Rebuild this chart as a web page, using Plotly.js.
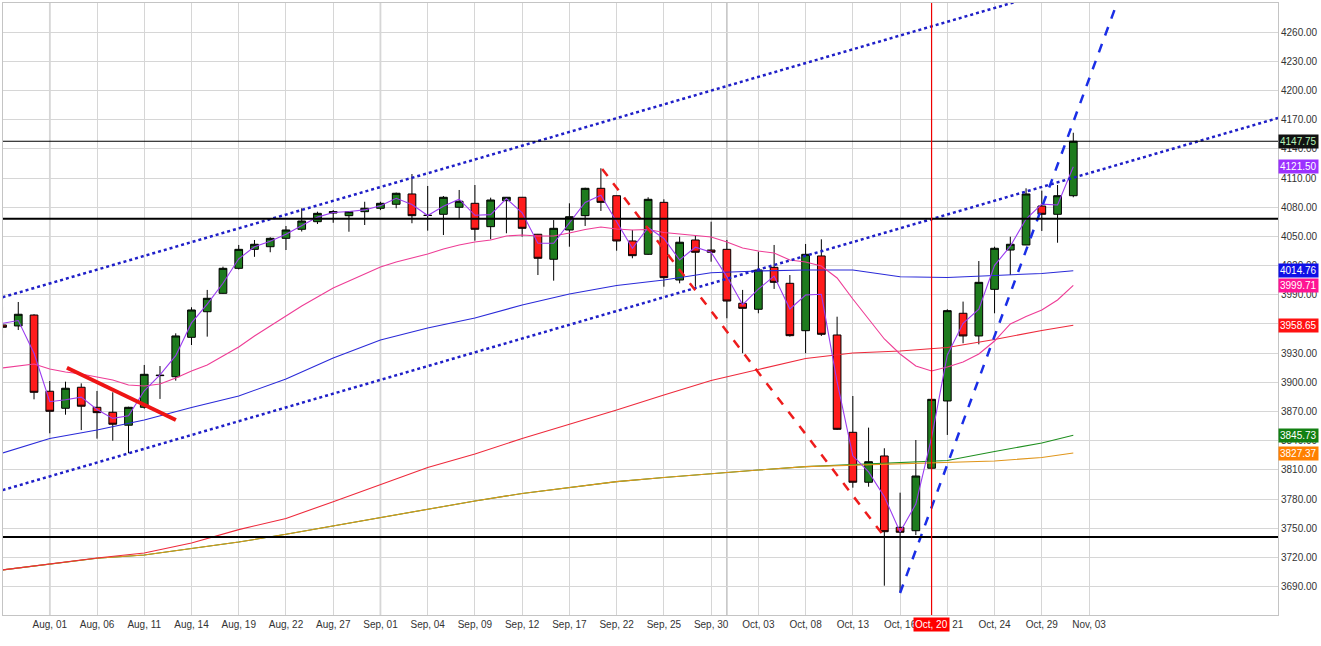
<!DOCTYPE html>
<html><head><meta charset="utf-8">
<script src="https://cdn.plot.ly/plotly-3.0.1.min.js"></script>
<style>html,body{margin:0;padding:0;background:#fff;overflow:hidden}#chart{width:1321px;height:646px}</style>
</head><body><div id="chart"></div>
<script>
// ---- data (daily candles, index = trading-day slot) ----
const dates = ["Jul, 29","Jul, 30","Jul, 31","Aug, 01","Aug, 04","Aug, 05","Aug, 06","Aug, 07","Aug, 08","Aug, 11",
"Aug, 12","Aug, 13","Aug, 14","Aug, 15","Aug, 18","Aug, 19","Aug, 20","Aug, 21","Aug, 22","Aug, 25",
"Aug, 26","Aug, 27","Aug, 28","Aug, 29","Sep, 01","Sep, 02","Sep, 03","Sep, 04","Sep, 05","Sep, 08",
"Sep, 09","Sep, 10","Sep, 11","Sep, 12","Sep, 15","Sep, 16","Sep, 17","Sep, 18","Sep, 19","Sep, 22",
"Sep, 23","Sep, 24","Sep, 25","Sep, 26","Sep, 29","Sep, 30","Oct, 01","Oct, 02","Oct, 03","Oct, 06",
"Oct, 07","Oct, 08","Oct, 09","Oct, 10","Oct, 13","Oct, 14","Oct, 15","Oct, 16","Oct, 17","Oct, 20",
"Oct, 21","Oct, 22","Oct, 23","Oct, 24","Oct, 27","Oct, 28","Oct, 29","Oct, 30","Oct, 31"];
const futureDates = ["Nov, 03"];
const open = [3959,3958,3969.2,3890.9,3873.4,3895,3874.4,3869.3,3856,3874.4,
3907.5,3905.8,3946.3,3972.6,3991.5,4017.2,4036.7,4039.4,4048,4057.3,
4065.1,4074,4071.3,4075.4,4078.9,4083,4093.6,4071.8,4072.7,4079.9,
4084,4060,4086.7,4090.2,4052.2,4026.5,4056.6,4071.3,4099.4,4091.8,
4045.3,4031.6,4085,4005.2,4046.3,4036,4036.7,3981.3,3975.1,4018.2,
4001.8,3953.1,4029.9,3948.7,3848.7,3797.4,3824.4,3751.1,3747.6,3811.8,
3880.9,3971,3947.7,3995.6,4036,4041.2,4081.2,4072.7,4091.8];
const high = [3977.5,3982.6,3970,3901.4,3900.7,3899,3891.2,3889.8,3875,3917.9,
3916.8,3950.4,3977.2,3995,4018.9,4041.2,4046.3,4049.1,4060.7,4078.9,
4075.4,4077.1,4076,4085.6,4085.6,4095,4114.1,4101.8,4091.5,4097.7,
4102.8,4089.8,4090.5,4090.5,4052.5,4066.8,4084,4100,4120,4092,
4056.6,4090.2,4088.1,4049.7,4051.4,4065.1,4046.3,3995,4034.3,4041.2,
4010.3,4042.2,4047,3967.5,3886,3853.5,3832.3,3786.7,3840.8,3883,
3975.1,3983,4024.7,4039.4,4049.7,4099.4,4097,4102.8,4156.5];
const low = [3948.7,3953.8,3882.6,3847.7,3866.8,3851,3842.2,3840.1,3827.2,3873,
3883,3901.8,3938.4,3947,3991,4016,4029,4033.7,4036,4055,
4062.7,4064,4054.8,4061.7,4077,4078.9,4063.5,4055.9,4051.4,4068.6,
4045.6,4047,4053.2,4049.7,4010.3,4004.5,4039.4,4060.7,4076.1,4035.3,
4027.5,4031,3998.3,4001.8,3998.3,4024,3965.9,3930,3971,3996,
3947,3929.9,3947.7,3851.1,3791.8,3792.8,3691.1,3684.3,3743.2,3811,
3846,3940.2,3939.1,3971,4010.3,4041,4055.6,4043.5,4090.2];
const close = [3956.6,3970,3889.8,3870.3,3894,3875.5,3868.9,3857,3874.4,3908.3,
3907,3947.7,3974.4,3986.4,4017.2,4036.7,4041.9,4048,4056.6,4065.8,
4073.7,4075.5,4075.4,4078.9,4084,4094.3,4071.3,4071.5,4090.2,4086.1,
4057.3,4087.4,4090.2,4058.3,4027.5,4058.3,4070.2,4099.4,4085,4045.3,
4030.2,4088.1,4007.6,4044,4033.7,4033.7,3983.6,3976.1,4015.5,4002.8,
3948,4031.6,3949.4,3851.8,3797.4,3818.5,3746.6,3746,3803.8,3882.6,
3973.7,3947.7,4002.8,4037.8,4041.9,4093.6,4072.7,4091.8,4147.75];

// short (purple) average, one value per candle
const maPurple = [3960.7,3963.5,3929.9,3880.1,3882.2,3884.8,3872.2,3863.0,3865.7,3891.4,
3907.7,3927.4,3961.1,3980.4,4001.8,4027.0,4039.3,4045.0,4052.3,4061.2,
4069.8,4074.6,4075.5,4077.2,4081.5,4089.2,4082.8,4071.4,4080.9,4088.2,
4071.7,4072.4,4088.8,4074.3,4042.9,4042.9,4064.3,4084.8,4092.2,4065.2,
4037.8,4059.2,4047.9,4025.8,4038.9,4033.7,4008.7,3979.9,3995.8,4009.2,
3975.4,3989.8,3990.5,3900.6,3824.6,3808.0,3782.6,3746.3,3774.9,3843.2,
3928.2,3960.7,3975.3,4020.3,4039.9,4067.8,4083.2,4082.3,4121.5];
// pink average, one value per candle
const maPink = [3914.8,3916.8,3918.9,3913.8,3910.7,3908.6,3905.6,3902.5,3897.3,3896.3,
3898.4,3904.5,3911.7,3917.9,3927.1,3936.4,3947.7,3958.0,3968.2,3978.5,
3987.7,3997.0,4004.2,4011.4,4018.6,4023.7,4027.8,4031.9,4037.1,4041.2,
4044.2,4046.3,4050.4,4051.4,4050.4,4050.4,4053.5,4057.1,4059.7,4057.6,
4056.6,4057.1,4054.0,4052.5,4050.4,4049.4,4044.2,4038.1,4035.0,4032.9,
4025.8,4023.7,4019.6,4007.3,3985.7,3965.1,3944.6,3929.2,3916.8,3911.7,
3915.8,3920.9,3929.2,3942.5,3960.0,3967.7,3974.4,3984.7,3999.71];
// slower averages, read every third slot
const slowIdx = [0,3,6,9,12,15,18,21,24,27,30,33,36,39,42,45,48,51,54,57,60,63,66,68];
const maBlue = [3827.5,3842.4,3851.1,3861.4,3874.2,3886.0,3903.5,3925.1,3943.6,3955.9,3966.2,3979.5,
3990.8,3999.6,4005.2,4012.7,4014.5,4015.5,4015.5,4008.6,4007.8,4009.8,4011.9,4014.76];
const maRed = [3707.3,3713.4,3719.6,3724.7,3735.0,3748.7,3760.2,3777.4,3795.3,3812.6,3826.4,3842.4,
3857.0,3871.6,3887.1,3902.0,3913.3,3924.6,3930.2,3932.3,3935.9,3944.1,3953.3,3958.65];
const maGreen = [3707.3,3713.4,3719.3,3722.7,3729.1,3736.0,3743.9,3752.5,3761.4,3770.2,3778.2,3785.9,
3792.0,3798.0,3802.3,3806.4,3810.0,3813.4,3815.6,3817.2,3819.8,3829.0,3837.7,3845.73];
const maOrange = [3707.3,3713.4,3719.3,3722.7,3729.1,3736.0,3743.9,3752.5,3761.4,3770.2,3778.2,3785.9,
3792.0,3798.0,3802.3,3806.4,3810.0,3813.4,3814.8,3816.2,3817.7,3819.3,3822.8,3827.37];

// drawn studies (slot index, price)
const channelUpperX = [0, 70], channelUpperY = [3987.5, 4317.7];
const channelLowerX = [0, 81], channelLowerY = [3789.3, 4171.6];
const redTrendX = [4.09, 11.01], redTrendY = [3915.1, 3861.4];
const redDashX = [38.08, 55.92], redDashY = [4119.3, 3743.2];
const blueDashX = [57, 72], blueDashY = [3683.6, 4343.6];
const levelLines = [4068.2, 3741.2];
const lastPrice = 4147.75;
const cursorIdx = 59;
const monthStarts = [3, 24, 46];

const valueLabels = [4147.75, 4121.50, 4014.76, 3999.71, 3958.65, 3845.73, 3827.37];
const valueBg = ['#111111','#9b30ff','#1010e6','#ff1493','#ff1111','#128012','#ff8000'];
const valueFg = ['#b8f5b8','#ffffff','#ffffff','#ffffff','#ffffff','#ffffff','#ffffff'];

const yTicks = [3690,3720,3750,3780,3810,3840,3870,3900,3930,3960,3990,4020,4050,4080,4110,4140,4170,4200,4230,4260];

// ---- build ----
const idx = dates.map((d,i)=>i);
const axisDates = dates.concat(futureDates);
const tickIdx = [], tickText = [];
for (let i = 3; i < axisDates.length; i += 3) { tickIdx.push(i); tickText.push(axisDates[i]); }

const FONT = 'Liberation Sans, Arial, sans-serif';
function line(x, y, color, width, dash) {
  return {type:'scatter', mode:'lines', x:x, y:y, hoverinfo:'skip', showlegend:false,
          line:{color:color, width:width, dash:dash||'solid'}};
}
const traces = [
  {type:'candlestick', x:idx, open:open, high:high, low:low, close:close, hoverinfo:'skip', showlegend:false,
   whiskerwidth:0,
   increasing:{line:{color:'#000000', width:1}, fillcolor:'#1e7b1e'},
   decreasing:{line:{color:'#000000', width:1}, fillcolor:'#ff1c1c'}},
  line(slowIdx, maGreen, '#1f8f1f', 1.1),
  line(slowIdx, maOrange, '#e0961c', 1.1),
  line(slowIdx, maRed, '#ee2a3c', 1.1),
  line(slowIdx, maBlue, '#2a2ad8', 1.1),
  line(idx, maPink, '#ee3d96', 1.1),
  line(idx, maPurple, '#9a3cf0', 1.1),
  line(channelUpperX, channelUpperY, '#1f1fc8', 2.5, 'dot'),
  line(channelLowerX, channelLowerY, '#1f1fc8', 2.5, 'dot'),
  line(redTrendX, redTrendY, '#ee1414', 4),
  line(redDashX, redDashY, '#ee1c1c', 2.5, 'dash'),
  line(blueDashX, blueDashY, '#1a2ee6', 2.5, 'dash')
];

const shapes = [];
monthStarts.forEach(m => shapes.push({type:'line', xref:'x', yref:'paper', x0:m, x1:m, y0:0, y1:1,
  line:{color:'#c6c6c6', width:1.6}, layer:'below'}));
levelLines.forEach(v => shapes.push({type:'line', xref:'paper', yref:'y', x0:0, x1:1, y0:v, y1:v,
  line:{color:'#000000', width:2}}));
shapes.push({type:'line', xref:'paper', yref:'y', x0:0, x1:1, y0:lastPrice, y1:lastPrice, line:{color:'#000000', width:1}});
shapes.push({type:'line', xref:'x', yref:'paper', x0:cursorIdx, x1:cursorIdx, y0:0, y1:1, line:{color:'#ee0000', width:1.2}});

const annotations = valueLabels.map((v,i) => ({xref:'paper', yref:'y', x:1, y:v, xanchor:'left', yanchor:'middle',
  xshift:0, text:v.toFixed(2), showarrow:false, bgcolor:valueBg[i], borderpad:1,
  font:{family:FONT, size:10, color:valueFg[i]}}));
annotations.push({xref:'x', yref:'paper', x:cursorIdx, y:0, yanchor:'top', xanchor:'center', yshift:-2,
  text:axisDates[cursorIdx], showarrow:false, bgcolor:'#ff0000', borderpad:1,
  font:{family:FONT, size:10, color:'#ffffff'}});

const layout = {
  width:1321, height:646, margin:{l:3, r:43, t:3, b:31},
  paper_bgcolor:'#ffffff', plot_bgcolor:'#ffffff', showlegend:false,
  font:{family:FONT, size:10, color:'#333333'},
  xaxis:{range:[0.03, 81.0], tickvals:tickIdx, ticktext:tickText, showgrid:true, gridcolor:'#d6d6d6', gridwidth:1,
         zeroline:false, showline:true, linecolor:'#c4c4c4', linewidth:1, mirror:true, ticks:'',
         rangeslider:{visible:false}, fixedrange:true, tickfont:{family:FONT, size:10, color:'#333333'}},
  yaxis:{range:[3661.0, 4289.8], side:'right', tickvals:yTicks, ticktext:yTicks.map(v=>v.toFixed(2)),
         showgrid:true, gridcolor:'#d6d6d6', gridwidth:1, zeroline:false, showline:true, linecolor:'#c4c4c4',
         linewidth:1, mirror:true, ticks:'', fixedrange:true, tickfont:{family:FONT, size:10, color:'#333333'}},
  shapes:shapes, annotations:annotations
};
Plotly.newPlot('chart', traces, layout, {staticPlot:true, displayModeBar:false});
</script>
</body></html>
